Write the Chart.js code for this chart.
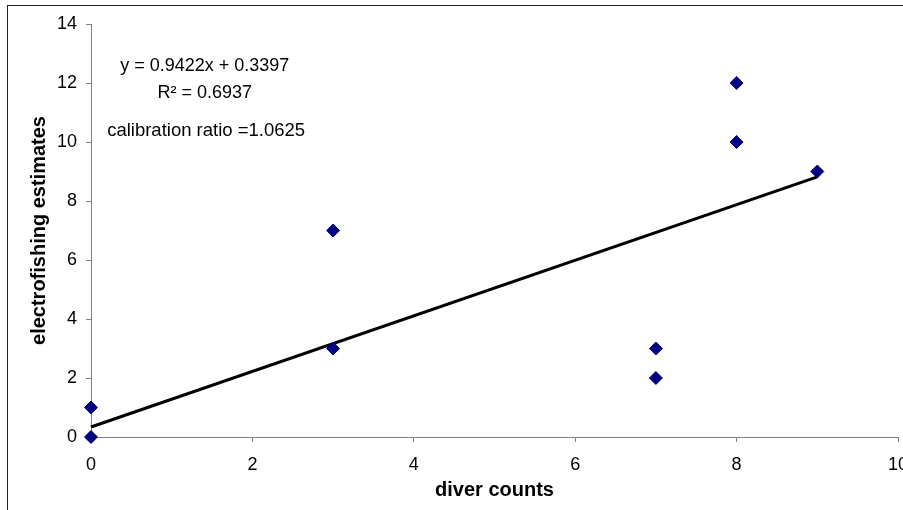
<!DOCTYPE html>
<html>
<head>
<meta charset="utf-8">
<script src="https://cdn.jsdelivr.net/npm/chart.js@4"></script>
<style>
  html, body { margin: 0; padding: 0; background: #fff; overflow: hidden; }
  #wrap { width: 930px; height: 530px; }
</style>
</head>
<body>
<div id="wrap"><canvas id="myChart" width="930" height="530"></canvas></div>
<script>
// observed points (diver count, electrofishing estimate)
var diverCounts = [0, 0, 3, 3, 7, 7, 8, 8, 9]
var fishEstimates = [0, 1, 3, 7, 2, 3, 10, 12, 9]

// linear trendline endpoints, y = 0.9422x + 0.3397
var trendX = [0, 9]
var trendY = [0.3397, 8.8195]

var xTicks = [0, 2, 4, 6, 8, 10]
var yTicks = [0, 2, 4, 6, 8, 10, 12, 14]

var eqText = 'y = 0.9422x + 0.3397'
var r2Text = 'R\u00B2 = 0.6937'
var ratioText = 'calibration ratio =1.0625'

const ctx = document.getElementById('myChart');
const axisGray = '#808080'
const fontFam = '"Liberation Sans", Arial, sans-serif'

// outer frame + text boxes
const extras = {
  id: 'extras',
  beforeDraw(chart) {
    const c = chart.ctx
    c.save()
    c.fillStyle = '#fff'
    c.fillRect(0, 0, chart.width, chart.height)
    c.strokeStyle = '#222'
    c.lineWidth = 1
    c.strokeRect(7.5, 5.5, 1000, 1000)
    c.restore()
  },
  afterDraw(chart) {
    const c = chart.ctx
    const xs = chart.scales.x, ys = chart.scales.y
    c.save()
    c.fillStyle = '#000'
    c.font = '18px ' + fontFam
    c.textBaseline = 'middle'
    c.textAlign = 'center'
    c.fillText(eqText, xs.getPixelForValue(1.41), ys.getPixelForValue(12.58))
    c.fillText(r2Text, xs.getPixelForValue(1.41), ys.getPixelForValue(11.66))
    c.textAlign = 'left'
    c.font = '18.5px ' + fontFam
    c.fillText(ratioText, xs.getPixelForValue(0.2), ys.getPixelForValue(10.38))
    c.restore()
  }
}

var chart = new Chart(ctx, {
  type: 'scatter',
  data: {
    datasets: [{
      label: 'counts',
      data: diverCounts.map((x, i) => ({x: x, y: fishEstimates[i]})),
      pointStyle: 'rectRot',
      pointRadius: 6.5,
      pointHoverRadius: 6.5,
      backgroundColor: '#000080',
      borderColor: '#000080',
      borderWidth: 1,
      clip: false,
      order: 1
    }, {
      label: 'trend',
      type: 'line',
      data: trendX.map((x, i) => ({x: x, y: trendY[i]})),
      borderColor: '#000',
      borderWidth: 3,
      pointRadius: 0,
      fill: false,
      clip: false,
      order: 2
    }]
  },
  options: {
    responsive: false,
    animation: false,
    events: [],
    layout: { padding: { left: 0, right: 32, top: 24, bottom: 0 } },
    plugins: { legend: { display: false }, tooltip: { enabled: false } },
    scales: {
      x: {
        type: 'linear',
        min: 0, max: 10,
        afterBuildTicks: (s) => { s.ticks = xTicks.map(v => ({value: v})) },
        afterFit: (s) => { s.height = 93 },
        grid: { drawOnChartArea: false, tickLength: 5, color: axisGray },
        border: { color: axisGray },
        ticks: { color: '#000', padding: 12, font: { family: fontFam, size: 18 }, maxRotation: 0 },
        title: { display: true, text: 'diver counts', color: '#000',
          font: { family: fontFam, size: 20, weight: 'bold' }, padding: { top: 0, bottom: 28 } }
      },
      y: {
        type: 'linear',
        min: 0, max: 14,
        afterBuildTicks: (s) => { s.ticks = yTicks.map(v => ({value: v})) },
        afterFit: (s) => { s.width = 91 },
        grid: { drawOnChartArea: false, tickLength: 5, color: axisGray },
        border: { color: axisGray },
        ticks: { color: '#000', padding: 9, font: { family: fontFam, size: 18 } },
        title: { display: true, text: 'electrofishing estimates', color: '#000',
          font: { family: fontFam, size: 20, weight: 'bold' }, padding: { top: 27, bottom: 0 } }
      }
    }
  },
  plugins: [extras]
})
</script>
</body>
</html>
